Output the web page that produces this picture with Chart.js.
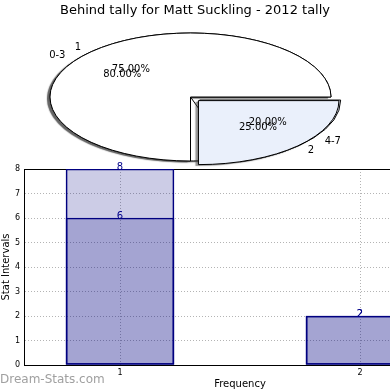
<!DOCTYPE html>
<html>
<head>
<meta charset="utf-8">
<script src="https://cdn.jsdelivr.net/npm/chart.js@4.4.1/dist/chart.umd.min.js"></script>
<style>
  html, body { margin: 0; padding: 0; background: #fff; overflow: hidden; }
  #wrap { position: relative; width: 390px; height: 390px; overflow: hidden; }
  canvas { position: absolute; left: 0; top: 0; }
  #mark { position: absolute; left: 0; top: 372px; font: 12px "DejaVu Sans"; color: #a0a0a0; }
</style>
</head>
<body>
<div id="wrap">
  <canvas id="bars" width="460" height="390"></canvas>
  <canvas id="pieA" width="390" height="390"></canvas>
  <canvas id="pieB" width="390" height="390"></canvas>
  <div id="mark">Dream-Stats.com</div>
</div>
<script>
/* ---- data ---- */
const TITLE = 'Behind tally for Matt Suckling - 2012 tally';

const pieLabelsA = ['0-3', '4-7'];
const pieValuesA = [80, 20];
const pieLabelsB = ['1', '2'];
const pieValuesB = [75, 25];
const pieColors  = ['#ffffff', '#eaf0fb'];
const pieExplode = [0, 0.08];

const barX      = [1, 2];
const barTotal  = [8, 2];
const barPart   = [6, 2];
const xTicks    = [1, 2];
const yMax      = 8;

/* ---- layout ---- */
const PIE_CX = 190.5, PIE_CY = 97, PIE_RX = 140.5, PIE_RY = 64;
const OFFSET_DIV = 4;   // arc element draws options.offset / 4
const TOP_PIE = 'pieB';

Chart.defaults.font.family = '"DejaVu Sans", sans-serif';
Chart.defaults.color = '#000';

const rev = a => a.slice().reverse();
const pies = [];

// slice labels + percentages, drawn on whichever canvas is on top
function drawPieLabels(chart, ctx) {
  const k = PIE_RY / PIE_RX;
  const ds = chart.data.datasets[0];
  const total = ds.data.reduce((s, v) => s + v, 0);
  ctx.save();
  ctx.font = '10px "DejaVu Sans"';
  ctx.fillStyle = '#000';
  ctx.textBaseline = 'middle';
  chart.getDatasetMeta(0).data.forEach((arc, i) => {
    const mid = (arc.startAngle + arc.endAngle) / 2;
    const shift = (arc.options.offset || 0) / OFFSET_DIV;
    const r = arc.outerRadius;
    const ux = Math.cos(mid), uy = Math.sin(mid);
    const at = d => [PIE_CX + ux * (shift + d * r), PIE_CY + uy * (shift + d * r) * k];
    const [lx, ly] = at(1.1);
    ctx.textAlign = ux < 0 ? 'right' : 'left';
    ctx.fillText(chart.data.labels[i], lx, ly);
    const [px, py] = at(0.6);
    ctx.textAlign = 'center';
    ctx.fillText((ds.data[i] / total * 100).toFixed(2) + '%', px, py);
  });
  ctx.restore();
}

// squash the round pie into an ellipse, strokes stay 1px
const ellipsePie = {
  id: 'ellipsePie',
  beforeInit(chart) {
    pies.push(chart);
  },
  beforeDatasetsDraw(chart) {
    const ctx = chart.ctx, a = chart.chartArea;
    const cx = (a.left + a.right) / 2, cy = (a.top + a.bottom) / 2;
    const dpr = chart.currentDevicePixelRatio;
    ctx.save();
    ctx.translate(PIE_CX, PIE_CY);
    ctx.scale(1, PIE_RY / PIE_RX);
    ctx.translate(-cx, -cy);
    ctx.shadowColor = 'rgba(60,60,60,0.55)';
    ctx.shadowOffsetX = -3;
    ctx.shadowOffsetY = 1.5;
    ctx.shadowBlur = 1;
    ctx.stroke = function () {
      this.save();
      this.setTransform(dpr, 0, 0, dpr, 0, 0);
      this.shadowColor = 'transparent';
      CanvasRenderingContext2D.prototype.stroke.call(this);
      this.restore();
    };
  },
  afterDatasetsDraw(chart) {
    const ctx = chart.ctx;
    delete ctx.stroke;
    ctx.restore();
    if (chart.canvas.id === TOP_PIE) {
      pies.forEach(p => drawPieLabels(p, ctx));
    }
  }
};

function makePie(id, labels, values, showTitle) {
  return new Chart(document.getElementById(id), {
    type: 'pie',
    data: {
      labels: rev(labels),
      datasets: [{
        data: rev(values),
        backgroundColor: rev(pieColors),
        borderColor: '#000',
        borderWidth: 1,
        offset: rev(pieExplode).map(e => e * PIE_RX * OFFSET_DIV)
      }]
    },
    options: {
      responsive: false,
      animation: false,
      events: [],
      rotation: 90,
      radius: PIE_RX,
      plugins: {
        legend: { display: false },
        tooltip: { enabled: false },
        title: {
          display: showTitle,
          text: TITLE,
          font: { size: 13, weight: 'normal' },
          padding: { top: 3, bottom: 3 }
        }
      }
    },
    plugins: [ellipsePie]
  });
}

// value labels above bars
const barValues = {
  id: 'barValues',
  afterDatasetsDraw(chart) {
    const ctx = chart.ctx;
    ctx.save();
    ctx.font = '10px "DejaVu Sans"';
    ctx.fillStyle = '#00008b';
    ctx.textAlign = 'center';
    ctx.textBaseline = 'alphabetic';
    chart.data.datasets.forEach((ds, di) => {
      chart.getDatasetMeta(di).data.forEach((bar, i) => {
        ctx.fillText(String(ds.data[i].y), bar.x, bar.y + 1);
      });
    });
    ctx.restore();
  }
};

const barStyle = {
  backgroundColor: 'rgba(0,0,128,0.2)',
  borderColor: '#000080',
  borderWidth: 1,
  borderSkipped: false,
  barThickness: 108,
  grouped: false
};

new Chart(document.getElementById('bars'), {
  type: 'bar',
  data: {
    datasets: [
      { ...barStyle, data: barX.map((x, i) => ({ x, y: barTotal[i] })) },
      { ...barStyle, data: barX.map((x, i) => ({ x, y: barPart[i] })) }
    ]
  },
  options: {
    responsive: false,
    animation: false,
    events: [],
    layout: { padding: { top: 169, right: 4, left: 0, bottom: 0 } },
    plugins: { legend: { display: false }, tooltip: { enabled: false } },
    scales: {
      x: {
        type: 'linear',
        offset: false,
        min: 0.6,
        max: 2.4,
        afterBuildTicks: s => { s.ticks = xTicks.map(v => ({ value: v })); },
        afterFit: s => { s.height = 25; },
        ticks: { font: { size: 8 }, padding: 3 },
        grid: { color: '#b4b4b4', drawTicks: false, offset: false },
        border: { color: '#000', width: 1, dash: [1, 2] },
        title: { display: true, text: 'Frequency', font: { size: 10 }, padding: 0 }
      },
      x2: {
        type: 'linear',
        position: 'top',
        offset: false,
        min: 0.6,
        max: 2.4,
        afterFit: s => { s.height = 0; },
        ticks: { display: false },
        grid: { display: false },
        border: { color: '#000', width: 1 }
      },
      y: {
        min: 0,
        max: yMax,
        afterFit: s => { s.width = 24; },
        ticks: { stepSize: 1, font: { size: 8 }, padding: 4 },
        grid: { color: '#b4b4b4', drawTicks: false },
        border: { color: '#000', width: 1, dash: [1, 2] },
        title: { display: true, text: 'Stat Intervals', font: { size: 10 }, padding: 0 }
      }
    }
  },
  plugins: [barValues]
});

makePie('pieA', pieLabelsA, pieValuesA, true);
makePie('pieB', pieLabelsB, pieValuesB, false);
</script>
</body>
</html>
